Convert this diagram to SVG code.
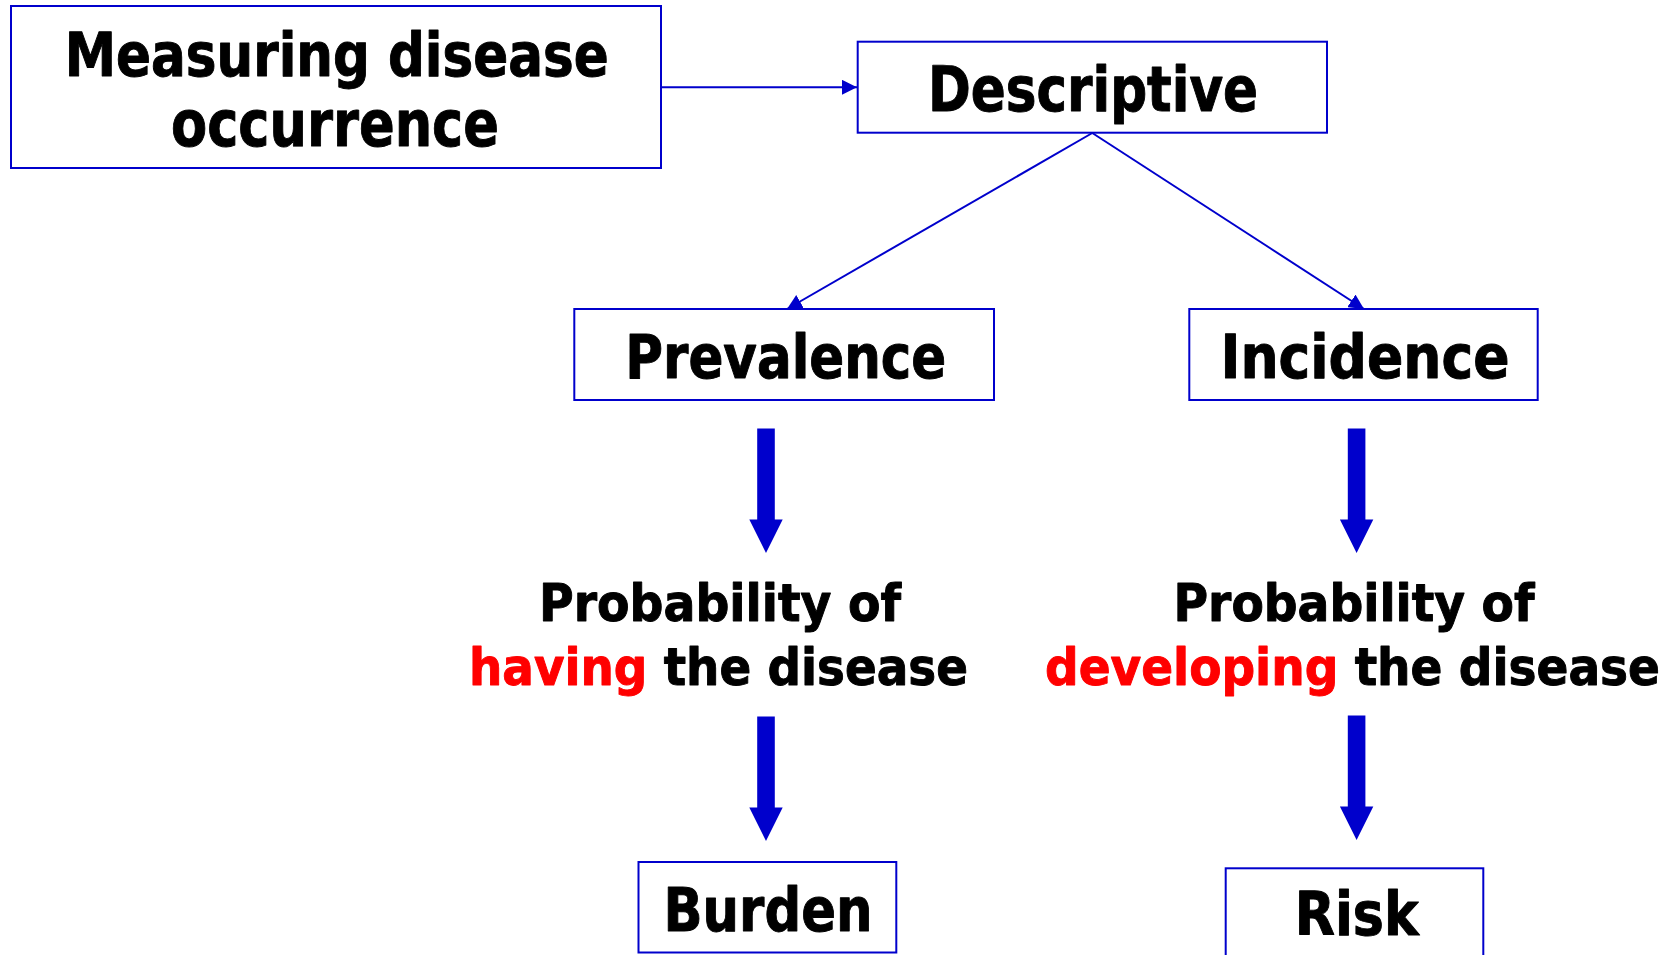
<svg xmlns="http://www.w3.org/2000/svg" xmlns:xlink="http://www.w3.org/1999/xlink" width="1679" height="955" viewBox="0 0 1679 955">
  <style>
    .box { fill: #FFFFFF; stroke: #0000CC; stroke-width: 2; }
    .lbl { font-family: "DejaVu Sans Condensed", "DejaVu Sans", "Liberation Sans", sans-serif; font-stretch: condensed; font-weight: bold; fill: #000000; stroke: #000000; stroke-width: 0.9; stroke-linejoin: round; }
    .big { font-size: 60px; }
    .mid { font-size: 52px; }
    .red { fill: #FF0000; stroke: #FF0000; }
    .conn { stroke: #0000CC; stroke-width: 2; fill: none; }
    .block { fill: #0000CC; }
  </style>
  <defs>
    <marker id="head" markerUnits="userSpaceOnUse" viewBox="0 0 15 15" refX="15" refY="7.5" markerWidth="15" markerHeight="15" orient="auto">
      <path d="M0,0 L15,7.5 L0,15 Z" fill="#0000CC"/>
    </marker>
    <path id="blockArrow" d="M-8.8,0 H8.8 V91 H16.7 L0,124.5 L-16.7,91 H-8.8 Z"/>
  </defs>
  <rect width="1679" height="955" fill="#FFFFFF"/>

  <g id="connectors">
    <line class="conn" x1="661" y1="87.3" x2="857" y2="87.3" marker-end="url(#head)"/>
    <line class="conn" x1="1092.3" y1="133" x2="787" y2="309" marker-end="url(#head)"/>
    <line class="conn" x1="1092.3" y1="133" x2="1364" y2="309" marker-end="url(#head)"/>
    <use xlink:href="#blockArrow" class="block" transform="translate(766,428.5)"/>
    <use xlink:href="#blockArrow" class="block" transform="translate(766,716.5)"/>
    <use xlink:href="#blockArrow" class="block" transform="translate(1356.6,428.5)"/>
    <use xlink:href="#blockArrow" class="block" transform="translate(1356.6,715.5)"/>
  </g>

  <g id="node-measuring">
    <rect class="box" x="11" y="6" width="650" height="162"/>
    <text class="lbl big" x="64.7" y="76" textLength="544" lengthAdjust="spacingAndGlyphs">Measuring disease</text>
    <text class="lbl" style="font-size:64px" x="171" y="145.5" textLength="328" lengthAdjust="spacingAndGlyphs">occurrence</text>
  </g>

  <g id="node-descriptive">
    <rect class="box" x="857.7" y="41.7" width="469.3" height="91"/>
    <text class="lbl" style="font-size:62px" x="928" y="111" textLength="330" lengthAdjust="spacingAndGlyphs">Descriptive</text>
  </g>

  <g id="node-prevalence">
    <rect class="box" x="574.3" y="309" width="419.7" height="91"/>
    <text class="lbl big" x="625.3" y="377.7" textLength="321" lengthAdjust="spacingAndGlyphs">Prevalence</text>
  </g>

  <g id="node-incidence">
    <rect class="box" x="1189.3" y="309" width="348.4" height="91"/>
    <text class="lbl big" x="1220.5" y="377.7" textLength="289" lengthAdjust="spacingAndGlyphs">Incidence</text>
  </g>

  <g id="node-having">
    <text class="lbl mid" x="539" y="621.4" textLength="362" lengthAdjust="spacingAndGlyphs">Probability of</text>
    <text class="lbl mid" x="469" y="684.5" textLength="499" lengthAdjust="spacingAndGlyphs"><tspan class="red">having</tspan> the disease</text>
  </g>

  <g id="node-developing">
    <text class="lbl mid" x="1173.5" y="621.4" textLength="361" lengthAdjust="spacingAndGlyphs">Probability of</text>
    <text class="lbl mid" x="1045" y="684.5" textLength="615" lengthAdjust="spacingAndGlyphs"><tspan class="red">developing</tspan> the disease</text>
  </g>

  <g id="node-burden">
    <rect class="box" x="638.5" y="862" width="257.8" height="90.5"/>
    <text class="lbl big" x="663.5" y="931" textLength="209" lengthAdjust="spacingAndGlyphs">Burden</text>
  </g>

  <g id="node-risk">
    <rect class="box" x="1225.7" y="868.3" width="257.6" height="120"/>
    <text class="lbl big" x="1294.7" y="935" textLength="124" lengthAdjust="spacingAndGlyphs">Risk</text>
  </g>
</svg>
